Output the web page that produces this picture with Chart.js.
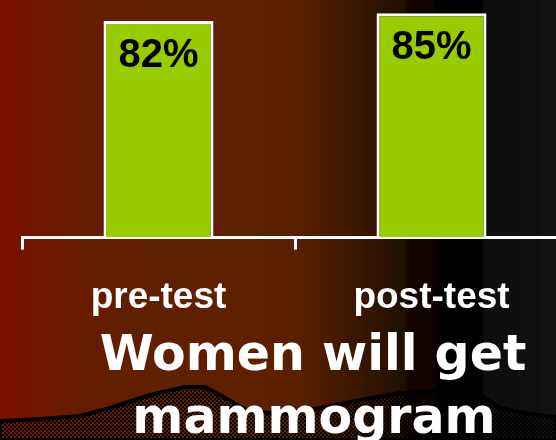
<!DOCTYPE html>
<html>
<head>
<meta charset="utf-8">
<script src="https://cdn.jsdelivr.net/npm/chart.js@4/dist/chart.umd.min.js"></script>
<style>
    html, body {
        margin: 0;
        padding: 0;
        width: 556px;
        height: 440px;
        overflow: hidden;
    }
    #stage {
        position: relative;
        width: 556px;
        height: 440px;
        overflow: hidden;
        background: linear-gradient(to right,
            #7b0e00 0px, #701600 40px, #651c00 90px, #5f2000 150px,
            #5c2000 270px, #571f00 300px, #441900 340px, #2e1300 380px,
            #1e1000 405px, #130400 408px, #100300 434px, #000 436px,
            #000 482px, #0e0e0e 484px, #0f0f0f 540px, #121212 542px, #121212 556px);
    }
    #hills {
        position: absolute;
        left: 0;
        top: 0;
    }
    #chartBox {
        position: absolute;
        left: 0;
        top: 0;
        width: 572px;
        height: 440px;
    }
</style>
</head>
<body>
<div id="stage">
    <svg id="hills" width="556" height="440">
        <defs>
            <pattern id="dots" width="4" height="4" patternUnits="userSpaceOnUse">
                <rect x="0" y="0" width="2" height="2" fill="#000"/>
                <rect x="2" y="2" width="2" height="2" fill="#000"/>
            </pattern>
        </defs>
        <polygon points="0,421 40,419 80,416 110,408 150,395 185,387 205,387 220,395 248,411 280,414 320,408 355,401 400,393 440,391 483,396 500,408 530,414 556,417 556,440 0,440"
                 fill="url(#dots)" stroke="#000" stroke-width="4" stroke-linejoin="round"/>
    </svg>
    <div id="chartBox"><canvas id="mammogramChart"></canvas></div>
</div>

<script>
const categories = ["pre-test", "post-test"];
const percentValues = [82, 85];
const titleLines = ["Women will get", "mammogram"];

// draws the "82%" style labels inside the top of each bar
const barValueLabels = {
    id: "barValueLabels",
    afterDatasetsDraw(chart) {
        const ctx = chart.ctx;
        const meta = chart.getDatasetMeta(0);
        ctx.save();
        ctx.font = "bold 40px 'Liberation Sans', Arial, sans-serif";
        ctx.fillStyle = "#000";
        ctx.textAlign = "center";
        ctx.textBaseline = "alphabetic";
        meta.data.forEach((bar, i) => {
            ctx.fillText(percentValues[i] + "%", bar.x, bar.y + 46);
        });
        ctx.restore();
    }
};

// two line title below the axis, a bit right of centre like the slide
const slideTitle = {
    id: "slideTitle",
    afterDraw(chart) {
        const ctx = chart.ctx;
        ctx.save();
        ctx.font = "bold 49px 'DejaVu Sans', Verdana, sans-serif";
        ctx.fillStyle = "#fff";
        ctx.textAlign = "center";
        ctx.textBaseline = "alphabetic";
        ctx.fillText(titleLines[0], 313, 370);
        ctx.fillText(titleLines[1], 314, 433);
        ctx.restore();
    }
};

const ctx = document.getElementById("mammogramChart").getContext("2d");

new Chart(ctx, {
    type: "bar",
    data: {
        labels: categories,
        datasets: [{
            data: percentValues,
            backgroundColor: "#99cc00",
            borderColor: "#ffffff",
            borderWidth: 3,
            borderSkipped: "start",
            categoryPercentage: 1,
            barPercentage: 0.403
        }]
    },
    options: {
        responsive: true,
        maintainAspectRatio: false,
        animation: false,
        layout: {
            padding: { left: 22, right: 4, top: 0, bottom: 94 }
        },
        plugins: {
            legend: { display: false },
            tooltip: { enabled: false }
        },
        scales: {
            x: {
                offset: true,
                grid: {
                    offset: true,
                    drawOnChartArea: false,
                    drawTicks: true,
                    tickLength: 12,
                    color: "#ffffff",
                    lineWidth: 3
                },
                border: { color: "#ffffff", width: 3 },
                ticks: {
                    color: "#ffffff",
                    padding: 26,
                    font: { family: "'Liberation Sans', Arial, sans-serif", size: 37, weight: "bold" }
                }
            },
            y: {
                display: false,
                min: 0,
                max: 90
            }
        }
    },
    plugins: [barValueLabels, slideTitle]
});
</script>
</body>
</html>
